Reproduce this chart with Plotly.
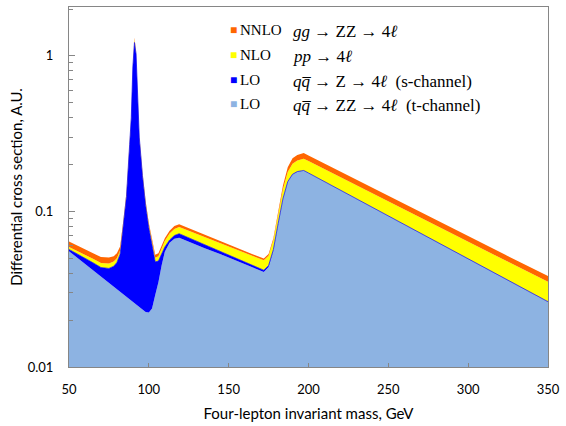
import plotly.graph_objects as go

# four-lepton invariant mass, GeV
mass = [50, 55, 60, 65, 70, 75, 78, 80, 82, 84, 86, 88, 89, 90, 91, 92, 93, 94,
        96, 98, 100, 102, 104, 106, 108, 110, 113, 116, 119, 125, 135, 145,
        155, 165, 172, 175, 178, 181, 184, 187, 190, 193, 197, 200, 225, 250,
        275, 300, 325, 350]

# LO q qbar -> ZZ -> 4l (t-channel)
lo_t = [.0555, .0505, .0460, .0419, .0382, .0348, .0328, .0316, .0305, .0294,
        .0283, .0272, .0267, .0262, .0258, .0253, .0248, .0244, .0234, .0226,
        .0224, .0238, .0290, .0350, .0450, .0550, .0630, .0668, .0677, .0638,
        .0580, .0530, .0480, .0437, .0408, .0440, .0560, .0830, .1200, .1550,
        .1730, .1800, .1830, .1763, .1285, .0935, .0681, .0496, .0361, .0262]

# LO q qbar -> Z -> 4l (s-channel)
lo_s = [.0015, .0030, .0040, .0049, .0054, .0082, .0116, .0154, .0225, .0506,
        .0967, .243, .373, .824, 1.194, 1.005, .455, .276, .147, .087,
        .056, .036, .0184, .013, .0086, .0040, .0025, .0032, .0042, .0038,
        .0030, .0022, .0017, .0013, .0011, .0009, .0008, .0007, .0006, .0005,
        .0004, .0004, .0003, .0003, .0002, .0002, .0001, .0001, .0001, .0001]

# NLO pp -> 4l
nlo = [.0021, .0024, .0026, .0028, .0030, .0032, .0032, .0030, .0030, .0035,
       .0045, .008, .012, .020, .060, .025, .012, .008, .005, .004,
       .0035, .0030, .0030, .0035, .0045, .0055, .0065, .0072, .0074, .0073,
       .0071, .0069, .0068, .0067, .0066, .0070, .0085, .012, .018, .024,
       .029, .032, .035, .0341, .0273, .0219, .0175, .0140, .0112, .0090]

# NNLO gg -> ZZ -> 4l
nnlo = [.0049, .0047, .0045, .0044, .0043, .0043, .0040, .0038, .0035, .0030,
        .0030, .0040, .0050, .0080, .025, .010, .0050, .0040, .0030, .0025,
        .0023, .0023, .0023, .0024, .0026, .0028, .0031, .0033, .0033, .0030,
        .0024, .0019, .0016, .0014, .0013, .0014, .0020, .0040, .0080, .0130,
        .0170, .0185, .0190, .0183, .0136, .0101, .0075, .0056, .0042, .0031]

layers = [
    ('LO t-channel', lo_t, '#8DB3E2', 0),
    ('LO s-channel', lo_s, '#0000FF', 0.7),
    ('NLO', nlo, '#FFFF00', 0),
    ('NNLO', nnlo, '#FF6600', 0),
]

legend_rows = [
    ('NNLO', '<i>gg</i> \u2192 ZZ \u2192 4<i>\u2113</i>', '#FF6600'),
    ('NLO', '<i>pp</i> \u2192 4<i>\u2113</i>', '#FFFF00'),
    ('LO', '<i>q</i><i>q\u0305</i> \u2192 Z \u2192 4<i>\u2113</i>\u00a0\u00a0(s-channel)',
     '#0000FF'),
    ('LO', '<i>q</i><i>q\u0305</i> \u2192 ZZ \u2192 4<i>\u2113</i>\u00a0\u00a0(t-channel)',
     '#8DB3E2'),
]

fig = go.Figure()

# stacked areas, bottom layer first
for name, vals, color, lw in layers:
    fig.add_trace(go.Scatter(
        x=mass, y=vals, name=name, mode='lines',
        stackgroup='one', line=dict(width=lw, color=color),
        fillcolor=color, showlegend=False))

# hand-made legend in the upper middle of the plot
serif = 'Liberation Serif, Times New Roman, serif'
row_y = [0.964, 0.895, 0.826, 0.757]
for (order, proc, color), yy in zip(legend_rows, row_y):
    fig.add_annotation(x=0.332, y=yy, xref='paper', yref='paper',
                       text='\u25a0', showarrow=False,
                       font=dict(size=12, color=color))
    fig.add_annotation(x=0.352, y=yy, xref='paper', yref='paper',
                       text=order, showarrow=False, xanchor='left',
                       font=dict(size=15, color='black', family=serif))
    fig.add_annotation(x=0.464, y=yy, xref='paper', yref='paper',
                       text=proc, showarrow=False, xanchor='left',
                       font=dict(size=17, color='black', family=serif))

axis_grey = '#868686'
fig.update_xaxes(
    range=[50, 350], tickvals=[50, 100, 150, 200, 250, 300, 350],
    ticks='inside', ticklen=4, tickcolor=axis_grey,
    showline=True, linecolor=axis_grey, linewidth=1, mirror=True,
    showgrid=False, zeroline=False, ticklabelstandoff=10,
    ticklabeloverflow='allow',
    tickfont=dict(size=13, color='black'),
    title=dict(text='Four-lepton invariant mass, GeV',
               font=dict(size=15, color='black'), standoff=12))
fig.update_yaxes(
    type='log', range=[-2, 0.314],
    tickvals=[0.01, 0.1, 1], ticktext=['0.01', '0.1', '1'],
    ticks='inside', ticklen=6, tickcolor=axis_grey,
    minor=dict(ticks='inside', ticklen=4, tickcolor=axis_grey,
               tickvals=[0.02, 0.03, 0.04, 0.05, 0.06, 0.07, 0.08, 0.09,
                         0.2, 0.3, 0.4, 0.5, 0.6, 0.7, 0.8, 0.9, 2]),
    showline=True, linecolor=axis_grey, linewidth=1, mirror=True,
    showgrid=False, zeroline=False, ticklabelstandoff=12,
    tickfont=dict(size=13, color='black'),
    title=dict(text='Differential cross section, A.U.',
               font=dict(size=15, color='black'), standoff=1))

fig.update_layout(
    width=566, height=426,
    margin=dict(l=69, r=11, t=6, b=59),
    plot_bgcolor='white', paper_bgcolor='white',
    font=dict(family='Lato, Open Sans, sans-serif'),
)

# drop the default page margin so the figure sits at the window corner
fig.write_html("out.html", config={'displayModeBar': False},
               post_script="document.body.style.margin='0px';")
